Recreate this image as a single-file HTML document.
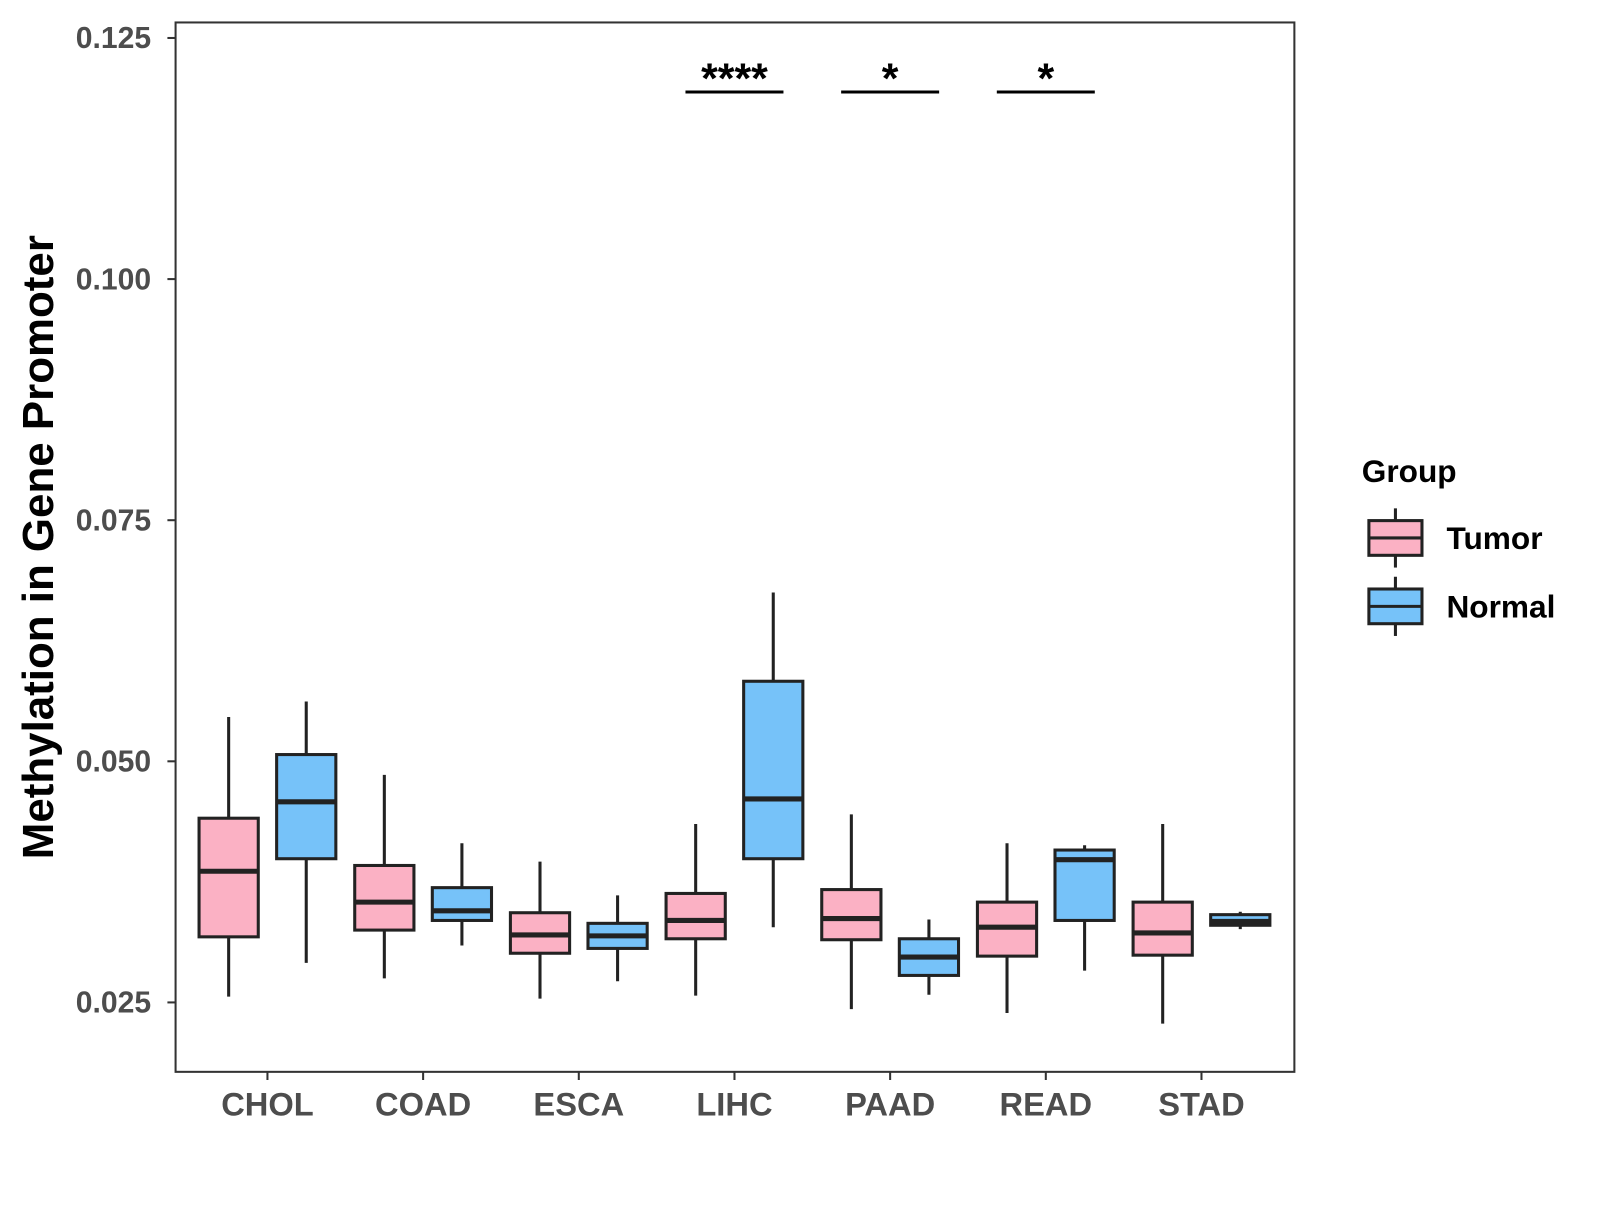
<!DOCTYPE html>
<html><head><meta charset="utf-8"><style>
body{margin:0;background:#fff}
svg text{font-family:"Liberation Sans",Arial,sans-serif;font-weight:bold}
</style></head><body>
<svg id="chart" width="1600" height="1200" viewBox="0 0 1600 1200">
<rect x="0" y="0" width="1600" height="1200" fill="#fff"/>
<g id="plot" transform="scale(1.0208)"></g>
</svg>
<script>
const categories=["CHOL","COAD","ESCA","LIHC","PAAD","READ","STAD"];
const tumorStats=[
[0.0256,0.0318,0.0386,0.0441,0.0546],
[0.0275,0.0325,0.0354,0.0392,0.0486],
[0.0254,0.0301,0.0320,0.0343,0.0396],
[0.0257,0.0316,0.0335,0.0363,0.0435],
[0.0243,0.0315,0.0337,0.0367,0.0445],
[0.0239,0.0298,0.0328,0.0354,0.0415],
[0.0228,0.0299,0.0322,0.0354,0.0435]];
const normalStats=[
[0.0291,0.0399,0.0458,0.0507,0.0562],
[0.0309,0.0335,0.0345,0.0369,0.0415],
[0.0272,0.0306,0.0319,0.0332,0.0361],
[0.0328,0.0399,0.0461,0.0583,0.0675],
[0.0258,0.0278,0.0297,0.0316,0.0336],
[0.0283,0.0335,0.0398,0.0408,0.0413],
[0.0326,0.0330,0.0334,0.0341,0.0344]];
const yTicks=[0.025,0.050,0.075,0.100,0.125];
const yTickLabels=["0.025","0.050","0.075","0.100","0.125"];
const sigCategories=["LIHC","PAAD","READ"];
const sigLabels=["****","*","*"];
const sigValue=0.1194;

const NS="http://www.w3.org/2000/svg";
const g=document.getElementById('plot');
const L=172,R=1268,T=22,B=1050;
function y(v){return 982-(v-0.025)/0.025*236.2;}
function x(i){return 262+i*152.5;}
function mk(tag,attrs,parent){const e=document.createElementNS(NS,tag);for(const k in attrs)e.setAttribute(k,attrs[k]);(parent||g).appendChild(e);return e;}

const panel=mk('rect',{x:L,y:T,width:R-L,height:B-T,fill:'none',stroke:'#333','stroke-width':2});



yTicks.forEach((v,i)=>{
  const t=mk('line',{x1:L-8,x2:L,y1:y(v),y2:y(v),stroke:'#333','stroke-width':2});
  
  
  const tx=mk('text',{x:L-24,y:y(v)+10,'text-anchor':'end','font-size':29.5,fill:'#4d4d4d'});
  tx.textContent=yTickLabels[i];
  
  
});
categories.forEach((c,i)=>{
  const t=mk('line',{x1:x(i),x2:x(i),y1:B,y2:B+8,stroke:'#333','stroke-width':2});
  
  
  const tx=mk('text',{x:x(i),y:B+43,'text-anchor':'middle','font-size':32,fill:'#4d4d4d'});
  tx.textContent=c;
  
  
});

function box(cx,s,fill,name){
  const grp=mk('g',{});
  
  
  const w=58;
  mk('line',{x1:cx,x2:cx,y1:y(s[4]),y2:y(s[0]),stroke:'#222','stroke-width':3},grp);
  mk('rect',{x:cx-w/2,y:y(s[3]),width:w,height:Math.max(y(s[1])-y(s[3]),1),fill:fill,stroke:'#222','stroke-width':3},grp);
  mk('line',{x1:cx-w/2,x2:cx+w/2,y1:y(s[2]),y2:y(s[2]),stroke:'#222','stroke-width':5},grp);
}
categories.forEach((c,i)=>{
  box(x(i)-38,tumorStats[i],'#fbb1c4','box-tumor-'+c.toLowerCase());
  box(x(i)+38,normalStats[i],'#76c2f9','box-normal-'+c.toLowerCase());
});

sigCategories.forEach((c,k)=>{
  const i=categories.indexOf(c);
  const l=mk('line',{x1:x(i)-48,x2:x(i)+48,y1:y(sigValue),y2:y(sigValue),stroke:'#000','stroke-width':3});
  
  
  const t=mk('text',{x:x(i),y:y(sigValue)+1,'text-anchor':'middle','font-size':42,fill:'#000'});
  t.textContent=sigLabels[k];
  
  
});

const yt=mk('text',{x:0,y:0,transform:'translate(52,536) rotate(-90)','text-anchor':'middle','font-size':43,fill:'#000'});
yt.textContent='Methylation in Gene Promoter';



const lg=mk('g',{});


const lt=mk('text',{x:1334,y:472,'font-size':31,fill:'#000'},lg);
lt.textContent='Group';
[['Tumor','#fbb1c4',527],['Normal','#76c2f9',594]].forEach(([n,f,cy])=>{
  const e=mk('g',{},lg);
  
  
  mk('line',{x1:1367,x2:1367,y1:cy-29,y2:cy+29,stroke:'#222','stroke-width':3},e);
  mk('rect',{x:1341,y:cy-17,width:52,height:34,fill:f,stroke:'#222','stroke-width':3},e);
  mk('line',{x1:1341,x2:1393,y1:cy,y2:cy,stroke:'#222','stroke-width':3},e);
  const t=mk('text',{x:1417,y:cy+11,'font-size':31,fill:'#000'},e);
  t.textContent=n;
});
</script>
</body></html>
